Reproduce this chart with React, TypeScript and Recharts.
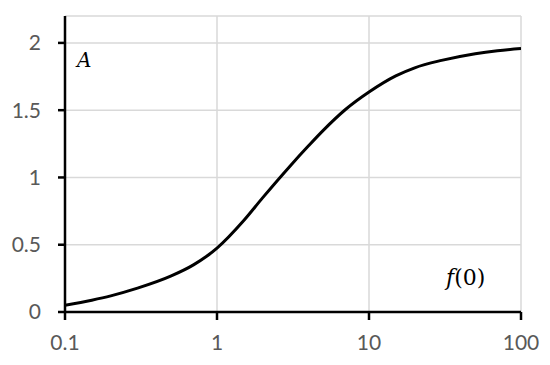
import { LineChart, Line, XAxis, YAxis, CartesianGrid } from "recharts";

const fValues = [0.1, 0.15, 0.2, 0.3, 0.5, 0.7, 0.85, 1, 1.5, 2, 3, 4, 5, 7, 10, 15, 20, 30, 50, 70, 100];
const aValues = [0.05, 0.088, 0.12, 0.177, 0.268, 0.35, 0.412, 0.475, 0.68, 0.85, 1.08, 1.235, 1.35, 1.505, 1.635, 1.755, 1.815, 1.87, 1.92, 1.942, 1.958];
const xTicks = [0.1, 1, 10, 100];
const yTicks = [0, 0.5, 1, 1.5, 2];

const data = fValues.map((f, i) => ({ f, a: aValues[i] }));

const tickStyle = { fontSize: 21, fill: "#595959", fontFamily: "Lato, sans-serif" };
const mathFont = "'DejaVu Serif', serif";

export default function App() {
  return (
    <div style={{ position: "fixed", top: 0, left: 0, width: 550, height: 365, background: "#fff" }}>
      <LineChart
        width={550}
        height={365}
        data={data}
        margin={{ top: 16, right: 29, bottom: 0, left: 0 }}
      >
        <CartesianGrid stroke="#d9d9d9" strokeWidth={1.5} />
        <XAxis
          dataKey="f"
          type="number"
          scale="log"
          domain={[0.1, 100]}
          ticks={xTicks}
          allowDataOverflow
          tickFormatter={(v: number) => String(v)}
          tick={tickStyle}
          height={53}
          tickSize={8}
          tickMargin={15}
          axisLine={{ stroke: "#000", strokeWidth: 2.5 }}
          tickLine={{ stroke: "#000", strokeWidth: 2.5 }}
        />
        <YAxis
          type="number"
          domain={[0, 2.2]}
          ticks={yTicks}
          allowDataOverflow
          tick={tickStyle}
          width={65}
          tickSize={7}
          tickMargin={17}
          axisLine={{ stroke: "#000", strokeWidth: 2.5 }}
          tickLine={{ stroke: "#000", strokeWidth: 2.5 }}
        />
        <Line
          type="monotone"
          dataKey="a"
          stroke="#000"
          strokeWidth={3}
          dot={false}
          isAnimationActive={false}
        />
      </LineChart>
      <div
        style={{
          position: "absolute",
          left: 77,
          top: 48,
          fontFamily: mathFont,
          fontStyle: "italic",
          fontSize: 20,
          lineHeight: "24px",
        }}
      >
        A
      </div>
      <div
        style={{
          position: "absolute",
          left: 446,
          top: 265,
          fontFamily: mathFont,
          fontSize: 22,
          lineHeight: "26px",
        }}
      >
        <i>f</i>(0)
      </div>
    </div>
  );
}
